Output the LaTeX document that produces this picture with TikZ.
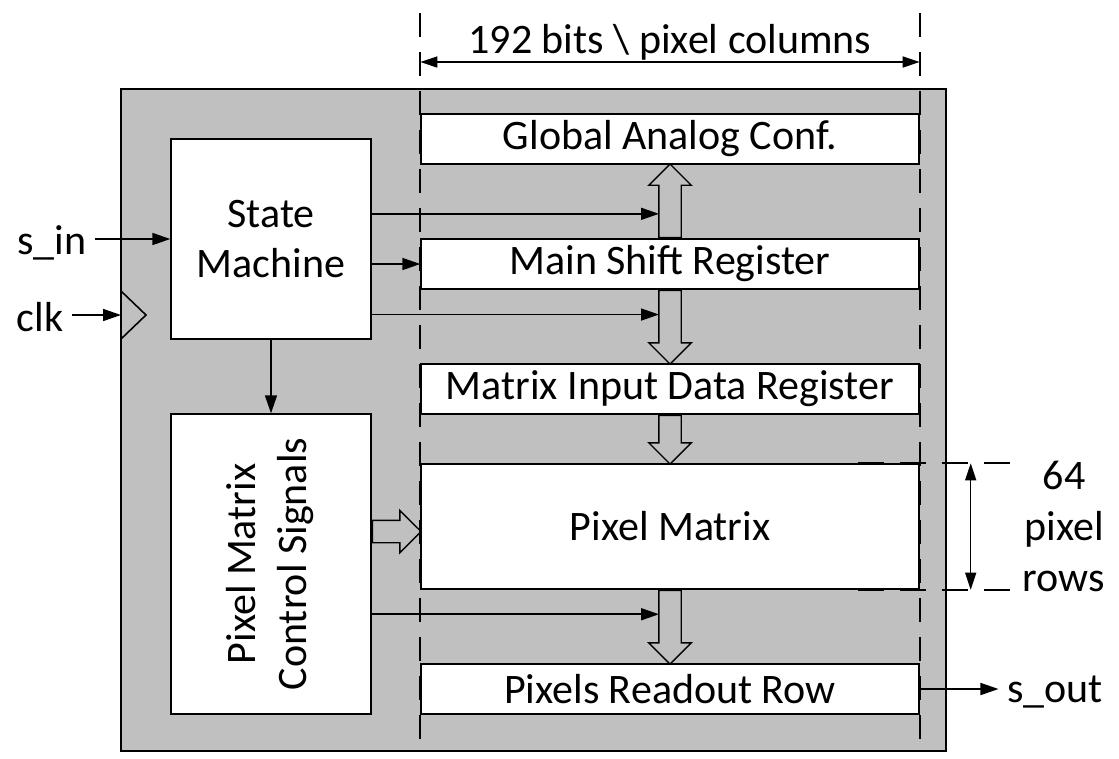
\documentclass[tikz,border=0pt]{standalone}
\usepackage{fontspec}
\setmainfont{Carlito}
\usepackage{tikz}
\usetikzlibrary{arrows.meta,positioning,calc,shapes.arrows}
\definecolor{chipgray}{HTML}{C0C0C0}
\tikzset{
    every picture/.style={line join=miter},
    chip/.style={draw=black,fill=chipgray,line width=0.75pt,inner sep=0pt},
    regbox/.style={draw=black,fill=white,line width=0.4pt,
      minimum width=49.8mm,minimum height=5mm,inner sep=0pt,align=center},
    ctrlbox/.style={draw=black,fill=white,line width=0.4pt,
      minimum width=20mm,inner sep=0pt,align=center},
    iolabel/.style={inner sep=0.8mm,align=center},
    sig/.style={-{Triangle[length=1.8mm,width=1.2mm]},line width=0.45pt},
    dimarrow/.style={{Triangle[length=1.7mm,width=1.1mm]}-{Triangle[length=1.7mm,width=1.1mm]},
      line width=0.4pt},
    guide/.style={line width=0.6pt,dash pattern=on 2.4mm off 1.5mm},
    rowguide/.style={line width=0.5pt,dash pattern=on 2.6mm off 1.6mm},
    fatarrow/.style={single arrow,draw=black,fill=chipgray,line width=0.4pt,
      inner sep=1.05mm,single arrow head extend=1mm}
}
% hollow block arrow from #2 to #3, named #1
\newcommand{\fatarrow}[3]{%
  \path let \p1=($(#3)-(#2)$), \n1={veclen(\x1,\y1)}, \n2={atan2(\y1,\x1)} in
    node[fatarrow,anchor=tail,minimum height=\n1,rotate=\n2] (#1) at (#2) {};}

\begin{document}
\begin{tikzpicture}[x=0.1mm,y=-0.1mm,font=\fontsize{11.95}{14.5}\selectfont]
  \useasboundingbox (0,0) rectangle (1119,758);
  \node[chip,minimum width=82.5mm,minimum height=66.2mm] (chip) at (533.5,420) {};
  % register column
  \node[regbox] (gac) at (670,139) {Global Analog Conf.};
  \node[regbox] (msr) at (670,264) {Main Shift Register};
  \node[regbox] (midr) at (670,389) {Matrix Input Data Register};
  \node[regbox,minimum height=12.5mm] (pm) at (670,526.5) {Pixel Matrix};
  \node[regbox] (prr) at (670,689) {Pixels Readout Row};
  % control side
  \node[ctrlbox,minimum height=20mm] (sm) at (271,239) {State\\Machine};
  \node[ctrlbox,minimum height=30mm] (pmcs) at (271,564)
    {\rotatebox{90}{\tabular{@{}c@{}}Pixel Matrix\\Control Signals\endtabular}};
  % io labels
  \node[iolabel] (sin) at (52,243) {s\_in};
  \node[iolabel] (clk) at (40,317) {clk};
  \node[iolabel] (sout) at (1055,692) {s\_out};
  \node[iolabel] (cols) at (670,42) {192 bits \textbackslash{} pixel columns};
  \node[iolabel] (rows) at (1064,526) {64\\pixel\\rows};
  \coordinate (ck) at (121,315);
  \coordinate (dimy) at (0,62);
  \coordinate (guidetop) at (0,13);
  \coordinate (pmin) at ([yshift=-0.5mm]pm.west);
  % data flow
  \fatarrow{up1}{msr.north}{gac.south}
  \fatarrow{dn1}{msr.south}{midr.north}
  \fatarrow{dn2}{midr.south}{pm.north}
  \fatarrow{dn3}{pm.south}{prr.north}
  \fatarrow{rt1}{pmcs.east |- pmin}{pmin}
  % signals
  \draw[sig] (sin.east |- sm) -- (sm);
  \draw[sig] (clk.east |- ck) -- (ck);
  \draw[line width=0.45pt] ([yshift=2.4mm]ck) -- ++(2.5mm,-2.4mm) -- ++(-2.5mm,-2.4mm);
  \coordinate (sm1) at ($(sm.north east)!.375!(sm.south east)$);
  \coordinate (sm3) at ($(sm.north east)!.875!(sm.south east)$);
  \coordinate (pc1) at ($(pmcs.north east)!2/3!(pmcs.south east)$);
  \draw[sig] (sm1) -- ([xshift=-1.1mm]sm1 -| msr.north);
  \draw[sig] (sm.east |- msr.west) -- (msr.west);
  \draw[sig] (sm3) -- ([xshift=-1.1mm]sm3 -| msr.south);
  \draw[sig] (sm) -- (pmcs);
  \draw[sig] (pc1) -- ([xshift=-1.1mm]pc1 -| pm.south);
  \draw[sig] (prr) -- (sout.west |- prr);
  % dimensions
  \draw[guide] (gac.west |- guidetop) -- (gac.west |- chip.south);
  \draw[guide] (gac.east |- guidetop) -- (gac.east |- chip.south);
  \draw[dimarrow] (gac.west |- dimy) -- (gac.east |- dimy);
  \draw[rowguide] ([xshift=-6.2mm]pm.north east) -- ++(15.6mm,0);
  \draw[rowguide] ([xshift=-6.2mm]pm.south east) -- ++(15.6mm,0);
  \draw[dimarrow] ([xshift=5.1mm]pm.north east) -- ([xshift=5.1mm]pm.south east);
\end{tikzpicture}
\end{document}
